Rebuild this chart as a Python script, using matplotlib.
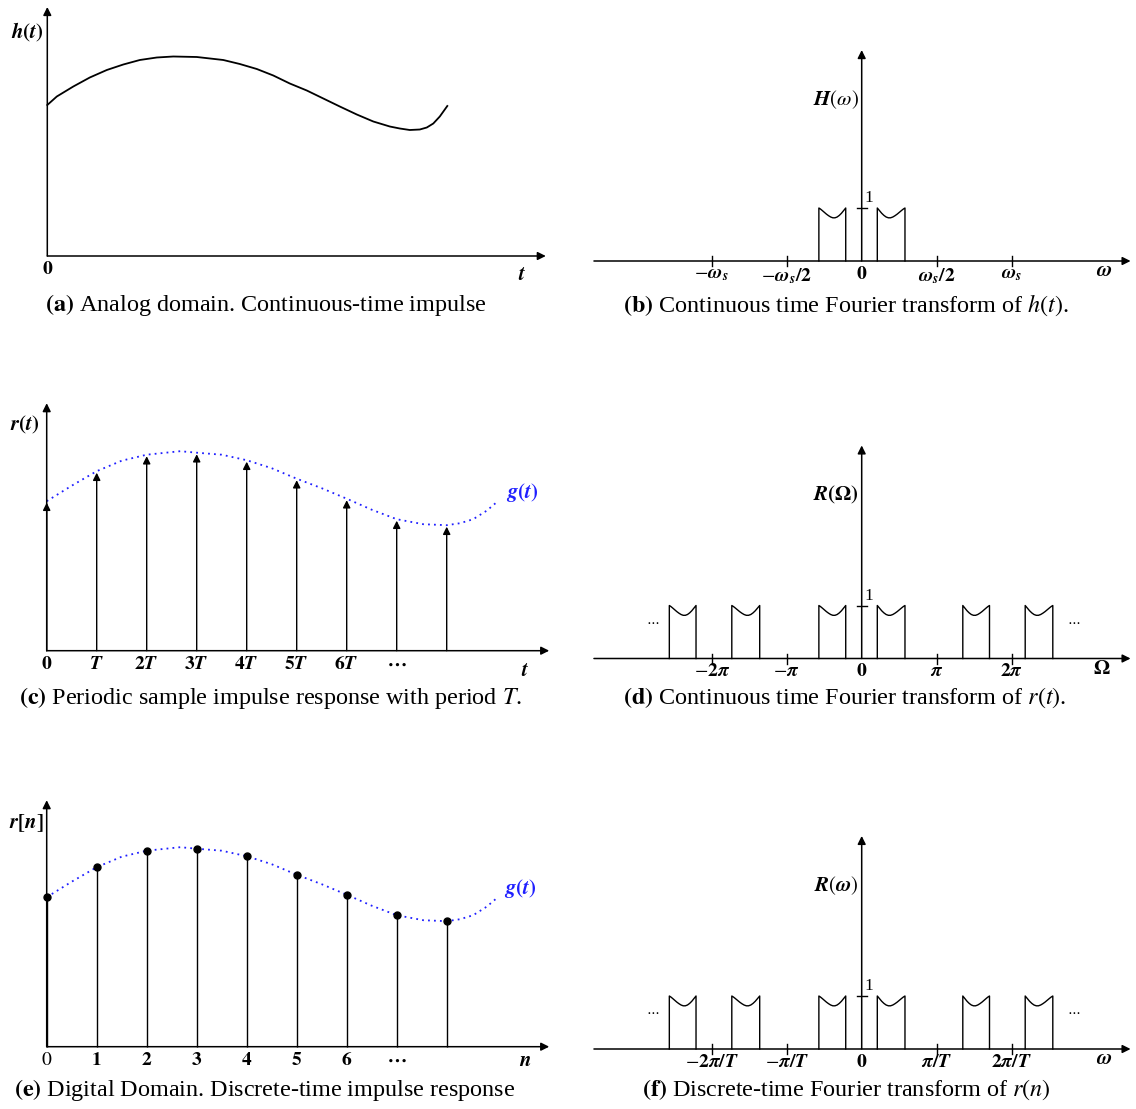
import matplotlib.pyplot as plt
import numpy as np

plt.rcParams['font.family'] = ['Liberation Serif', 'DejaVu Serif']
plt.rcParams['mathtext.fontset'] = 'stix'

# ---- dados ----
# (a) resposta continua h(t), t em unidades de T
t_h = [0, 0.19, 0.52, 0.85, 1.19, 1.52, 1.85, 2.19, 2.52, 2.99, 3.52, 3.85, 4.19,
       4.52, 4.85, 5.19, 5.52, 5.85, 6.19, 6.52, 6.85, 7.05, 7.25, 7.45, 7.59, 7.72, 7.85, 8.0]
h_vals = [3.02, 3.19, 3.39, 3.57, 3.72, 3.83, 3.92, 3.97, 3.99, 3.98, 3.92, 3.84, 3.74,
          3.61, 3.45, 3.31, 3.15, 2.99, 2.83, 2.69, 2.59, 2.55, 2.52, 2.53, 2.57, 2.65, 2.79, 3.00]

# envelope g(t) (pontilhado azul)
t_g = [0, 0.5, 1, 1.5, 2, 2.67, 3, 3.5, 4, 4.5, 5, 5.5, 6, 6.5, 7, 7.53, 8,
       8.27, 8.53, 8.8, 9.0]
g_vals = [2.99, 3.30, 3.59, 3.80, 3.92, 3.99, 3.96, 3.92, 3.81, 3.65, 3.44, 3.25,
          3.04, 2.82, 2.63, 2.53, 2.51, 2.55, 2.63, 2.80, 2.97]

# amostras
n_samp = [0, 1, 2, 3, 4, 5, 6, 7, 8]
g_samp = [2.99, 3.59, 3.92, 3.96, 3.81, 3.44, 3.04, 2.63, 2.51]

labels_c = [r'$\mathbf{0}$', r'$\mathbfit{T}$', r'$\mathbf{2}\mathbfit{T}$', r'$\mathbf{3}\mathbfit{T}$',
            r'$\mathbf{4}\mathbfit{T}$', r'$\mathbf{5}\mathbfit{T}$', r'$\mathbf{6}\mathbfit{T}$', r'$\mathbf{\cdots}$']
labels_e = [r'$0$', r'$\mathbf{1}$', r'$\mathbf{2}$', r'$\mathbf{3}$', r'$\mathbf{4}$',
            r'$\mathbf{5}$', r'$\mathbf{6}$', r'$\mathbf{\cdots}$']

# espectros (frequencia em unidades de pi)
band_lo = [-2.565, -1.732, -0.571, 0.208, 1.348, 2.180]
band_hi = [-2.209, -1.360, -0.213, 0.577, 1.704, 2.548]
base_bands = [2, 3]  # so a banda base aparece em (b)
top_frac = [0, 0.08, 0.16, 0.24, 0.32, 0.40, 0.48, 0.56, 0.64, 0.72, 0.80, 0.88, 0.94, 1.0]
top_amp = [1.0, 0.95, 0.90, 0.86, 0.83, 0.815, 0.815, 0.83, 0.855, 0.885, 0.92, 0.955, 0.98, 1.0]

freq_ticks = [-2, -1, 0, 1, 2]
labels_b = [r'$-\mathbfit{\omega}_{\mathbfit{s}}$', r'$-\mathbfit{\omega}_{\mathbfit{s}}\mathbf{/2}$', r'$\mathbf{0}$',
            r'$\mathbfit{\omega}_{\mathbfit{s}}\mathbf{/2}$', r'$\mathbfit{\omega}_{\mathbfit{s}}$']
labels_d = [r'$-\mathbf{2}\mathbfit{\pi}$', r'$-\mathbfit{\pi}$', r'$\mathbf{0}$', r'$\mathbfit{\pi}$', r'$\mathbf{2}\mathbfit{\pi}$']
labels_f = [r'$-\mathbf{2}\mathbfit{\pi}\mathbf{/}\mathbfit{T}$', r'$-\mathbfit{\pi}\mathbf{/}\mathbfit{T}$', r'$\mathbf{0}$',
            r'$\mathbfit{\pi}\mathbf{/}\mathbfit{T}$', r'$\mathbf{2}\mathbfit{\pi}\mathbf{/}\mathbfit{T}$']

W, H = 1136, 1109
fig = plt.figure(figsize=(W / 100, H / 100), dpi=100)

FS_LAB = 15
FS_TICK = 14
FS_CAP = 17.4


def painel(box, origem, sx, sy):
    x0, y0, x1, y1 = box
    ox, oy = origem
    ax = fig.add_axes([x0 / W, 1 - y1 / H, (x1 - x0) / W, (y1 - y0) / H])
    ax.set_xlim((x0 - ox) / sx, (x1 - ox) / sx)
    ax.set_ylim((oy - y1) / sy, (oy - y0) / sy)
    ax.axis('off')
    return ax


def seta(ax, p0, p1, lw=1.1, ms=12):
    ax.annotate('', xy=p1, xytext=p0, annotation_clip=False,
                arrowprops=dict(arrowstyle='-|>', lw=lw, color='k', mutation_scale=ms,
                                shrinkA=0, shrinkB=0))


def texto(x, y, s, **kw):
    kw.setdefault('ha', 'center')
    kw.setdefault('va', 'center')
    fig.text(x / W, 1 - y / H, s, **kw)


def rotulos(ax, xs, labs, size=FS_TICK):
    for x, s in zip(xs, labs):
        ax.annotate(s, xy=(x, 0), xytext=(0, -5), textcoords='offset pixels',
                    ha='center', va='top', fontsize=size, annotation_clip=False)


# ---------------- (a) ----------------
ax = painel((0, 0, 568, 290), (47.3, 256), 50, 50)
seta(ax, (0, 0), (9.97, 0))
seta(ax, (0, 0), (0, 4.98))
ax.plot(t_h, h_vals, color='k', lw=1.3)
rotulos(ax, [0], [r'$\mathbf{0}$'])
texto(522, 276, r'$\mathbfit{t}$', fontsize=FS_LAB)
texto(27, 32, r'$\mathbfit{h}\mathbf{(}\mathbfit{t}\mathbf{)}$', fontsize=FS_LAB)
texto(266, 305, r'$\mathbf{(a)}$ Analog domain. Continuous-time impulse', fontsize=FS_CAP)

# ---------------- (c) ----------------
ax = painel((0, 395, 568, 680), (46.7, 650.7), 50, 50)
seta(ax, (0, 0), (10.05, 0))
seta(ax, (0, 0), (0, 4.95))
for n, v in zip(n_samp, g_samp):
    seta(ax, (n, 0), (n, v - 0.03), lw=1.0, ms=11)
ax.plot(t_g, g_vals, color='#1f1fff', lw=1.3, dashes=(1, 2.3))
rotulos(ax, n_samp[:len(labels_c)], labels_c)
texto(525, 672, r'$\mathbfit{t}$', fontsize=FS_LAB)
texto(25, 425, r'$\mathbfit{r}\mathbf{(}\mathbfit{t}\mathbf{)}$', fontsize=FS_LAB)
texto(522, 492, r'$\mathbfit{g}\mathbf{(}\mathbfit{t}\mathbf{)}$', fontsize=FS_LAB, color='#1f1fff')
texto(270, 698, r'$\mathbf{(c)}$ Periodic sample impulse response with period $T$.', fontsize=FS_CAP)

# ---------------- (e) ----------------
ax = painel((0, 785, 568, 1075), (46.7, 1046.7), 50, 50)
seta(ax, (0, 0), (10.05, 0))
seta(ax, (0, 0), (0, 4.93))
ax.vlines(n_samp, 0, g_samp, color='k', lw=1.0)
ax.plot(t_g, g_vals, color='#1f1fff', lw=1.3, dashes=(1, 2.3))
ax.plot(n_samp, g_samp, 'o', color='k', ms=5)
rotulos(ax, n_samp[:len(labels_e)], labels_e)
texto(525, 1062, r'$\mathbfit{n}$', fontsize=FS_LAB)
texto(26, 823, r'$\mathbfit{r}\mathbf{[}\mathbfit{n}\mathbf{]}$', fontsize=FS_LAB)
texto(520, 888, r'$\mathbfit{g}\mathbf{(}\mathbfit{t}\mathbf{)}$', fontsize=FS_LAB, color='#1f1fff')
texto(265, 1090, r'$\mathbf{(e)}$ Digital Domain. Discrete-time impulse response', fontsize=FS_CAP)


# ---------------- espectros ----------------
def espectro(ax, ids, ytop, labs):
    seta(ax, (-3.57, 0), (3.585, 0))
    seta(ax, (0, 0), (0, ytop))
    fr = np.array(top_frac)
    am = np.array(top_amp)
    for i in ids:
        lo, hi = band_lo[i], band_hi[i]
        if lo + hi < 0:
            f, a = 1 - fr[::-1], am[::-1]
        else:
            f, a = fr, am
        xs = np.concatenate([[lo], lo + f * (hi - lo), [hi]])
        ys = np.concatenate([[0], a, [0]])
        ax.plot(xs, ys, color='k', lw=1.0)
    for x in freq_ticks:
        if x != 0:
            ax.plot([x, x], [-5 / 53, 5 / 53], color='k', lw=1.0)
    ax.plot([-5 / 75, 5 / 75], [1, 1], color='k', lw=1.0)
    ax.annotate('1', xy=(0, 1), xytext=(7, 10), textcoords='offset pixels',
                ha='center', va='center', fontsize=12.5)
    rotulos(ax, freq_ticks, labs)


ax = painel((580, 40, 1136, 290), (861.7, 261), 75, 53)
espectro(ax, base_bands, 3.98, labels_b)
texto(1104, 272, r'$\mathbfit{\omega}$', fontsize=FS_LAB)
texto(836, 100, r'$\mathbfit{H}(\omega)$', fontsize=FS_LAB)
texto(846, 305, r'$\mathbf{(b)}$ Continuous time Fourier transform of $h(t)$.', fontsize=FS_CAP)

ax = painel((580, 430, 1136, 680), (861.7, 658.5), 75, 53)
espectro(ax, range(len(band_lo)), 4.02, labels_d)
texto(1102, 670, r'$\mathbf{\Omega}$', fontsize=FS_LAB)
texto(836, 495, r'$\mathbfit{R}\mathbf{(\Omega)}$', fontsize=FS_LAB)
texto(653, 621, r'$\cdots$', fontsize=10)
texto(1074, 621, r'$\cdots$', fontsize=10)
texto(845, 698, r'$\mathbf{(d)}$ Continuous time Fourier transform of $r(t)$.', fontsize=FS_CAP)

ax = painel((580, 820, 1136, 1075), (861.7, 1049), 75, 53)
espectro(ax, range(len(band_lo)), 4.02, labels_f)
texto(1104, 1060, r'$\mathbfit{\omega}$', fontsize=FS_LAB)
texto(836, 886, r'$\mathbfit{R}(\mathbfit{\omega})$', fontsize=FS_LAB)
texto(653, 1011, r'$\cdots$', fontsize=10)
texto(1074, 1011, r'$\cdots$', fontsize=10)
texto(846, 1090, r'$\mathbf{(f)}$ Discrete-time Fourier transform of $r(n)$', fontsize=FS_CAP)

plt.savefig('out.png', dpi=100)
